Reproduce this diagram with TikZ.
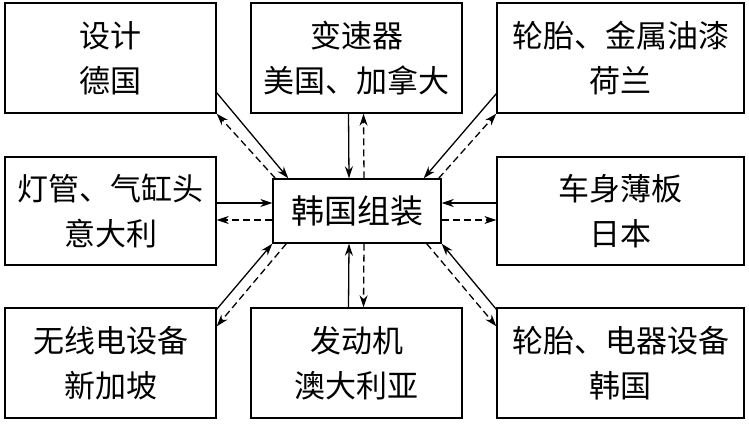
\documentclass[tikz,border=0pt]{standalone}
\usepackage{fontspec}
\setmainfont{Noto Sans CJK SC}
\usetikzlibrary{arrows.meta}
\begin{document}
\begin{tikzpicture}[x=1pt,y=1pt,
  box/.style={draw,line width=1.4pt,rectangle,inner sep=0pt,align=center,
    font=\fontsize{31}{45}\selectfont},
  sol/.style={line width=1.3pt,-{Stealth[length=12pt,width=8pt]}},
  das/.style={line width=1.3pt,dash pattern=on 7pt off 4pt,-{Stealth[length=12pt,width=8pt]}}]
\useasboundingbox (0,0) rectangle (749,423);
% y = 423 - image y
\node[box,minimum width=211pt,minimum height=110pt] (tl) at (110.5,365) {设计\\德国};
\node[box,minimum width=211pt,minimum height=110pt] (tm) at (356.5,365) {变速器\\美国、加拿大};
\node[box,minimum width=247pt,minimum height=110pt] (tr) at (620.5,365) {轮胎、金属油漆\\荷兰};
\node[box,minimum width=211pt,minimum height=108pt] (ml) at (110.5,212) {灯管、气缸头\\意大利};
\node[box,minimum width=168pt,minimum height=64pt,font=\fontsize{33}{45}\selectfont] (c) at (357,212) {韩国组装};
\node[box,minimum width=247pt,minimum height=108pt] (mr) at (620.5,212) {车身薄板\\日本};
\node[box,minimum width=211pt,minimum height=110pt] (bl) at (110.5,60) {无线电设备\\新加坡};
\node[box,minimum width=211pt,minimum height=110pt] (bm) at (356.5,60) {发动机\\澳大利亚};
\node[box,minimum width=247pt,minimum height=110pt] (br) at (620.5,60) {轮胎、电器设备\\韩国};
% top-left
\draw[sol] ([yshift=21pt]tl.south east) -- ([xshift=16pt]c.north west);
\draw[das] ([xshift=3pt]c.north west) -- (tl.south east);
% top-middle
\draw[sol] ([xshift=-8pt]tm.south) -- ([xshift=-8pt]c.north);
\draw[das] ([xshift=7pt]c.north) -- ([xshift=7pt]tm.south);
% top-right
\draw[sol] ([yshift=20pt]tr.south west) -- ([xshift=-18pt]c.north east);
\draw[das] ([xshift=-3pt]c.north east) -- (tr.south west);
% middle-left
\draw[sol] ([yshift=8pt]ml.east) -- ([yshift=8pt]c.west);
\draw[das] ([yshift=-9pt]c.west) -- ([yshift=-9pt]ml.east);
% middle-right
\draw[sol] ([yshift=8pt]mr.west) -- ([yshift=8pt]c.east);
\draw[das] ([yshift=-9pt]c.east) -- ([yshift=-9pt]mr.west);
% bottom-left
\draw[sol] ([yshift=-2pt]bl.north east) -- (c.south west);
\draw[das] ([xshift=14pt]c.south west) -- ([yshift=-19pt]bl.north east);
% bottom-middle
\draw[sol] ([xshift=-8pt]bm.north) -- ([xshift=-8pt]c.south);
\draw[das] ([xshift=7pt]c.south) -- ([xshift=7pt]bm.north);
% bottom-right
\draw[sol] ([yshift=-2pt]br.north west) -- (c.south east);
\draw[das] ([xshift=-15pt]c.south east) -- ([yshift=-19pt]br.north west);
\end{tikzpicture}
\end{document}
